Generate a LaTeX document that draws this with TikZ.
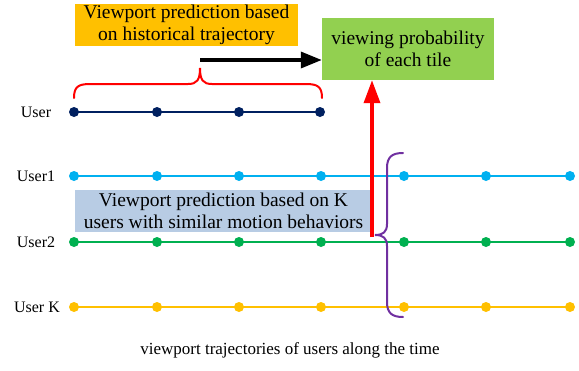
\documentclass[tikz,border=0pt]{standalone}
\usepackage{fontspec}
\setmainfont{Liberation Serif}
\usetikzlibrary{arrows.meta}

\definecolor{usernavy}{HTML}{002060}
\definecolor{userblue}{HTML}{00B0F0}
\definecolor{usergreen}{HTML}{00B050}
\definecolor{useryellow}{HTML}{FFC000}
\definecolor{boxorange}{HTML}{FFC000}
\definecolor{boxgreen}{HTML}{92D050}
\definecolor{boxblue}{HTML}{B8CCE4}
\definecolor{bracepurple}{HTML}{7030A0}

\tikzset{
	bigtext/.style={font=\fontsize{19.5}{22}\selectfont, align=center, inner sep=0pt},
	userlabel/.style={font=\fontsize{16}{18}\selectfont, anchor=center},
	infobox/.style={bigtext, minimum height=42pt},
	trackline/.style={line width=2.6pt},
	trackdot/.style={circle, fill, inner sep=0pt, minimum size=10pt},
	bracepath/.style={line width=2pt, line cap=round},
}

\begin{document}
\begin{tikzpicture}[x=1pt,y=-1pt]
			\useasboundingbox (0,0) rectangle (579,370);
			
			% Text boxes
			\node[infobox, fill=boxorange, minimum width=223pt] (hist) at (186.5,25)
			{Viewport prediction based\\on historical trajectory};
			\node[bigtext, fill=boxgreen, minimum width=172pt, minimum height=62pt] (prob) at (408,49)
			{viewing probability\\of each tile};
			\node[infobox, fill=boxblue, minimum width=297pt] (similar) at (223.5,211)
			{Viewport prediction based on K\\users with similar motion behaviors};
			
			% User labels
			\node[userlabel] (lu) at (36,112) {User};
			\node[userlabel] (l1) at (36,176) {User1};
			\node[userlabel] (l2) at (36,242) {User2};
			\node[userlabel] (lk) at (37,307) {User K};
			
			% Trajectory of the user (history only)
			\draw[trackline, usernavy] (74,112) -- (320,112);
			\foreach \x in {74,157,239,320}
				\node[trackdot, usernavy] at (\x,112) {};
			
			% Trajectories of the similar users
			\draw[trackline, userblue] (74,176) -- (570,176);
			\draw[trackline, usergreen] (74,242) -- (570,242);
			\draw[trackline, useryellow] (74,307) -- (570,307);
			\foreach \x in {74,157,239,321,404,486,570} {
				\node[trackdot, userblue] at (\x,176) {};
				\node[trackdot, usergreen] at (\x,242) {};
				\node[trackdot, useryellow] at (\x,307) {};
			}
			
			% Brace over the user history
			\draw[bracepath, red] (74,98) .. controls (74,87) and (78,84) .. (90,84)
			-- (188,84) .. controls (197,84) and (200,80) .. (200,68)
			.. controls (200,80) and (203,84) .. (212,84)
			-- (306,84) .. controls (318,84) and (322,87) .. (322,98);
			\coordinate (histtip) at (200,60);
			\draw[line width=3.5pt, -{Triangle[length=21pt,width=16pt]}] (histtip) -- (prob.west |- histtip);
			
			% Brace over the similar users
			\draw[bracepath, bracepurple] (403,153) .. controls (392,153) and (387,157) .. (387,168)
			-- (387,224) .. controls (387,232) and (383,235) .. (375,235)
			.. controls (383,235) and (387,238) .. (387,246)
			-- (387,302) .. controls (387,313) and (392,317) .. (403,317);
			\coordinate (simtip) at (372,237);
			\draw[red, line width=3.5pt, -{Triangle[length=23pt,width=16pt]}] (simtip) -- (simtip |- prob.south);
			
			% Caption
			\node[font=\fontsize{17}{20}\selectfont] (caption) at (290,350)
			{viewport trajectories of users along the time};
			
		\end{tikzpicture}
\end{document}
